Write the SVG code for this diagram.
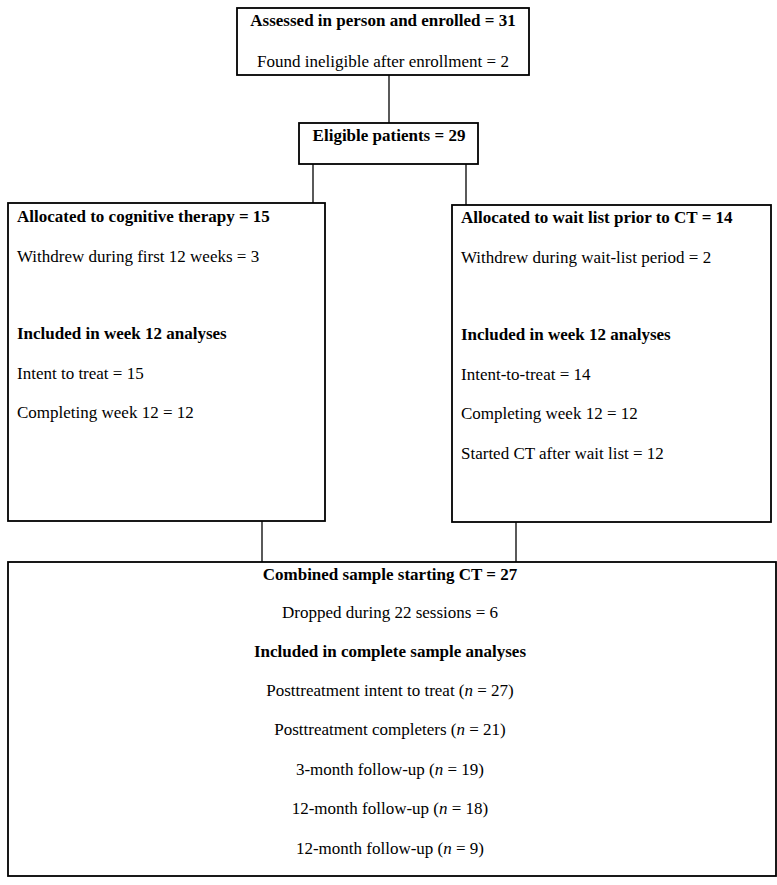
<svg xmlns="http://www.w3.org/2000/svg" width="777" height="885" viewBox="0 0 777 885">
<style>
.box{fill:#fff;stroke:#000;stroke-width:1.8}
.con{stroke:#000;stroke-width:1.3;fill:none}
text{font-family:"Liberation Serif","Times New Roman",serif;font-size:17px;fill:#000}
.b{font-weight:bold}
.c{text-anchor:middle}
</style>
<rect width="777" height="885" fill="#fff"/>
<g id="connectors">
<line class="con" x1="389" y1="75" x2="389" y2="123"/>
<line class="con" x1="313" y1="164" x2="313" y2="203"/>
<line class="con" x1="466" y1="164" x2="466" y2="205"/>
<line class="con" x1="262" y1="521" x2="262" y2="562"/>
<line class="con" x1="516" y1="522" x2="516" y2="562"/>
</g>
<g id="enrolled">
<rect class="box" x="237" y="8" width="292" height="67"/>
<text class="b c" x="383" y="26">Assessed in person and enrolled = 31</text>
<text class="c" x="383" y="67">Found ineligible after enrollment = 2</text>
</g>
<g id="eligible">
<rect class="box" x="299" y="123" width="179" height="41"/>
<text class="b c" x="389" y="141">Eligible patients = 29</text>
</g>
<g id="cognitive">
<rect class="box" x="8" y="203" width="317" height="318"/>
<text class="b" x="17" y="222">Allocated to cognitive therapy = 15</text>
<text x="17" y="262">Withdrew during first 12 weeks = 3</text>
<text class="b" x="17" y="339">Included in week 12 analyses</text>
<text x="17" y="379">Intent to treat = 15</text>
<text x="17" y="418">Completing week 12 = 12</text>
</g>
<g id="waitlist">
<rect class="box" x="452" y="205" width="319" height="317"/>
<text class="b" x="461" y="223">Allocated to wait list prior to CT = 14</text>
<text x="461" y="263">Withdrew during wait-list period = 2</text>
<text class="b" x="461" y="340">Included in week 12 analyses</text>
<text x="461" y="380">Intent-to-treat = 14</text>
<text x="461" y="419">Completing week 12 = 12</text>
<text x="461" y="459">Started CT after wait list = 12</text>
</g>
<g id="combined">
<rect class="box" x="8" y="562" width="768" height="314"/>
<text class="b c" x="390" y="580">Combined sample starting CT = 27</text>
<text class="c" x="390" y="618">Dropped during 22 sessions = 6</text>
<text class="b c" x="390" y="657">Included in complete sample analyses</text>
<text class="c" x="390" y="696">Posttreatment intent to treat (<tspan font-style="italic">n</tspan> = 27)</text>
<text class="c" x="390" y="735">Posttreatment completers (<tspan font-style="italic">n</tspan> = 21)</text>
<text class="c" x="390" y="775">3-month follow-up (<tspan font-style="italic">n</tspan> = 19)</text>
<text class="c" x="390" y="814">12-month follow-up (<tspan font-style="italic">n</tspan> = 18)</text>
<text class="c" x="390" y="854">12-month follow-up (<tspan font-style="italic">n</tspan> = 9)</text>
</g>
</svg>
